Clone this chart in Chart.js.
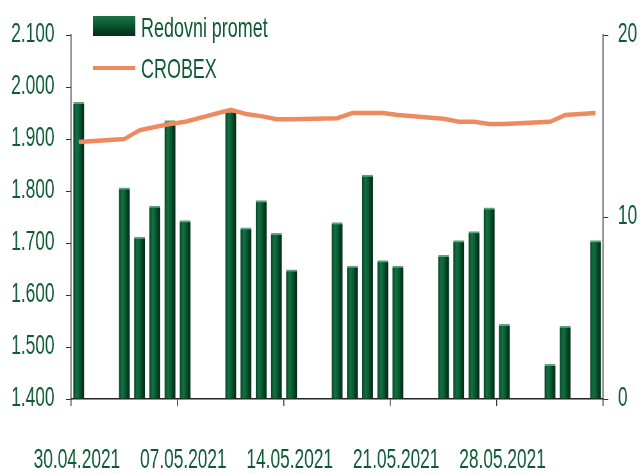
<!DOCTYPE html>
<html>
<head>
<meta charset="utf-8">
<script src="https://cdn.jsdelivr.net/npm/chart.js@4.4.1/dist/chart.umd.min.js"></script>
<style>
  html, body { margin: 0; padding: 0; background: #fff; overflow: hidden; }
  /* the original artwork is squeezed sideways (tall narrow lettering),
     so the whole chart is laid out 1000px wide and scaled down to 641px */
  #wrap { position: relative; width: 1000px; height: 474px;
    transform: scaleX(0.641); transform-origin: 0 0; }
  #legend { position: absolute; left: 0; top: 0;
    font-family: 'Liberation Sans', Arial, sans-serif; font-size: 28px;
    line-height: 28px; color: #0d5a34; white-space: nowrap; }
  #legend span { position: absolute; }
  .swatch-bar { left: 145px; top: 16px; width: 66px; height: 20px;
    background: linear-gradient(to bottom, #1b7447, #0d6136 35%, #063f22 75%, #03301a); }
  .swatch-line { left: 145px; top: 66px; width: 66px; height: 4px; background: #ee8a5e; }
  .t1 { left: 220px; top: 14px; }
  .t2 { left: 220px; top: 55px; }
</style>
</head>
<body>
<div id="wrap">
  <canvas id="chart" width="1000" height="474"></canvas>
  <div id="legend"></div>
</div>
<script>
// trading days
const dates = ['30.04.2021', '03.05.2021', '04.05.2021', '05.05.2021', '06.05.2021', '07.05.2021',
  '10.05.2021', '11.05.2021', '12.05.2021', '13.05.2021', '14.05.2021',
  '17.05.2021', '18.05.2021', '19.05.2021', '20.05.2021', '21.05.2021',
  '24.05.2021', '25.05.2021', '26.05.2021', '27.05.2021', '28.05.2021',
  '31.05.2021', '01.06.2021', '03.06.2021'];

// Redovni promet (right axis)
const promet = [16.3, 11.6, 8.9, 10.6, 15.3, 9.8,
  15.8, 9.4, 10.9, 9.1, 7.1,
  9.7, 7.3, 12.3, 7.6, 7.3,
  7.9, 8.7, 9.2, 10.5, 4.1,
  1.9, 4.0, 8.7];

// CROBEX (left axis)
const crobex = [1894, 1900, 1917, 1923, 1929, 1933,
  1956, 1948, 1944, 1938, 1938,
  1940, 1950, 1950, 1950, 1946,
  1939, 1933, 1933, 1929, 1929,
  1933, 1946, 1950];

const xTickLabels = ['30.04.2021', '07.05.2021', '14.05.2021', '21.05.2021', '28.05.2021', ''];
const leftTicks = [1400, 2100, 100];
const rightTicks = [0, 20, 10];
const seriesNames = ['Redovni promet', 'CROBEX'];

const FONT = "'Liberation Sans', Arial, sans-serif";
const GREEN = '#0d5a34';
const ORANGE = '#ee8a5e';

// legend drawn as html, overlapping the plot like in the original
document.getElementById('legend').innerHTML =
    `<span class="swatch-bar"></span><span class="t1">${seriesNames[0]}</span>
     <span class="swatch-line"></span><span class="t2">${seriesNames[1]}</span>`;

// day offset from first date, bar sits in the middle of its day slot
function dayPos(s) {
    const p = s.split('.');
    const d = new Date(+p[2], +p[1] - 1, +p[0]);
    const p0 = dates[0].split('.');
    const d0 = new Date(+p0[2], +p0[1] - 1, +p0[0]);
    return Math.round((d - d0) / 86400000) + 0.5;
}

const barData = dates.map((s, i) => ({ x: dayPos(s), y: promet[i] }));
const lineData = dates.map((s, i) => ({ x: dayPos(s), y: crobex[i] }));

function fmtThousands(v) {
    if (v < 1000) return String(v);
    return Math.floor(v / 1000) + '.' + String(v % 1000).padStart(3, '0');
}

const BAR_W = 17;

function barFill(ctx) {
    const solid = '#0b5e33';
    if (ctx.type !== 'data' || !ctx.raw) return solid;
    const chart = ctx.chart;
    const xs = chart.scales && chart.scales.x;
    if (!xs) return solid;
    const x = xs.getPixelForValue(ctx.raw.x);
    if (!isFinite(x)) return solid;
    const g = chart.ctx.createLinearGradient(x - BAR_W / 2, 0, x + BAR_W / 2, 0);
    g.addColorStop(0, '#0a4427');
    g.addColorStop(0.3, '#117242');
    g.addColorStop(0.55, '#0b5e34');
    g.addColorStop(0.8, '#053b1f');
    g.addColorStop(1, '#03301a');
    return g;
}

const tickFont = { family: FONT, size: 27 };

const ctx = document.getElementById('chart').getContext('2d');
const chart = new Chart(ctx, {
    type: 'bar',
    data: {
        datasets: [
            {
                type: 'line',
                label: seriesNames[1],
                data: lineData,
                yAxisID: 'y',
                borderColor: ORANGE,
                borderWidth: 4.5,
                pointRadius: 0,
                tension: 0,
                order: 0
            },
            {
                type: 'bar',
                label: seriesNames[0],
                data: barData,
                yAxisID: 'y1',
                backgroundColor: barFill,
                borderColor: '#5fa37e',
                borderWidth: { top: 2, left: 0, right: 0, bottom: 0 },
                borderSkipped: 'bottom',
                barThickness: BAR_W,
                order: 1
            }
        ]
    },
    options: {
        responsive: false,
        animation: false,
        devicePixelRatio: 1,
        layout: { padding: { top: 35, left: 0, right: 0, bottom: 0 } },
        plugins: {
            legend: { display: false },
            tooltip: { enabled: false }
        },
        scales: {
            x: {
                type: 'linear',
                min: 0,
                max: 35,
                offset: false,
                afterFit: (s) => { s.height = 75; s.paddingLeft = 0; s.paddingRight = 0; },
                border: { display: true, color: '#222', width: 1.5 },
                grid: { offset: false, drawOnChartArea: false, drawTicks: true, tickLength: 7, tickColor: '#333', lineWidth: 1.5 },
                ticks: {
                    stepSize: 7,
                    autoSkip: false,
                    maxRotation: 0,
                    padding: 38,
                    labelOffset: 9,
                    color: GREEN,
                    font: tickFont,
                    callback: (v) => xTickLabels[Math.round(v / 7)]
                }
            },
            y: {
                position: 'left',
                min: leftTicks[0],
                max: leftTicks[1],
                afterFit: (s) => { s.width = 111; s.paddingTop = 0; s.paddingBottom = 0; },
                border: { display: true, color: '#333', width: 1.5 },
                grid: { drawOnChartArea: false, drawTicks: true, tickLength: 8, tickColor: '#333' },
                ticks: {
                    stepSize: leftTicks[2],
                    padding: 18,
                    color: GREEN,
                    font: tickFont,
                    callback: (v) => fmtThousands(v)
                }
            },
            y1: {
                position: 'right',
                min: rightTicks[0],
                max: rightTicks[1],
                afterFit: (s) => { s.width = 59; s.paddingTop = 0; s.paddingBottom = 0; },
                border: { display: true, color: '#333', width: 1.5 },
                grid: { drawOnChartArea: false, drawTicks: true, tickLength: 8, tickColor: '#333' },
                ticks: {
                    stepSize: rightTicks[2],
                    padding: 15,
                    color: GREEN,
                    font: tickFont
                }
            }
        }
    }
});
</script>
</body>
</html>
